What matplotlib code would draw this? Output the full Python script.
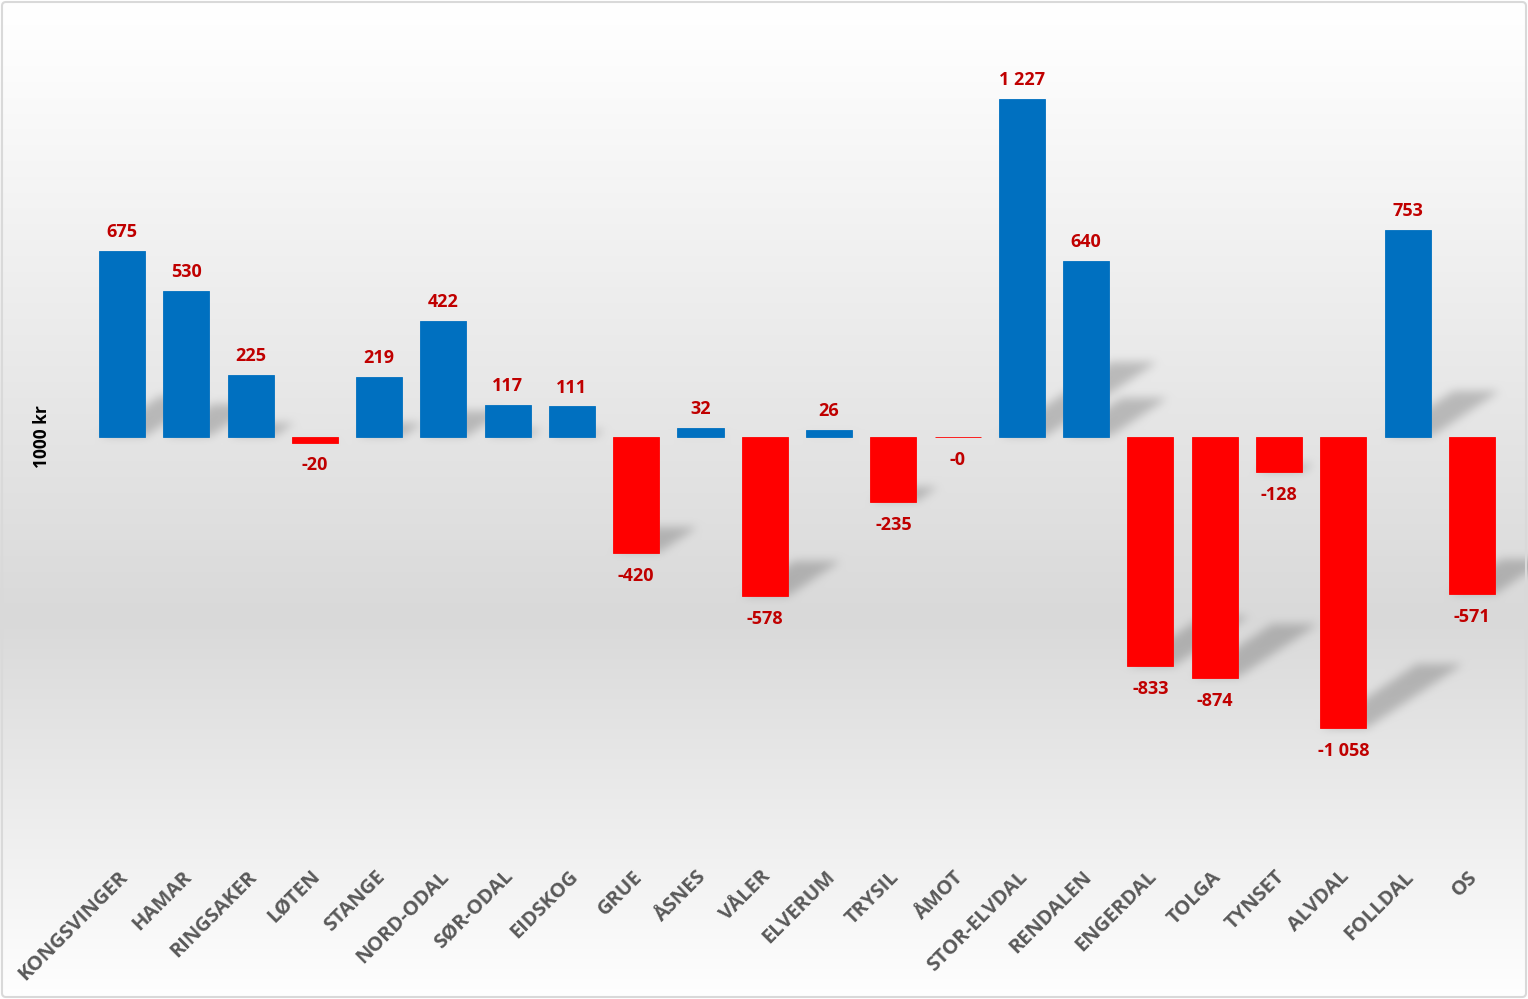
import numpy as np
import matplotlib
matplotlib.use('Agg')
from matplotlib import pyplot as plt
from matplotlib.path import Path
from matplotlib.patches import FancyBboxPatch
from matplotlib.transforms import ScaledTranslation

# Chart data
kommuner = ['KONGSVINGER', 'HAMAR', 'RINGSAKER', 'LØTEN', 'STANGE', 'NORD-ODAL',
            'SØR-ODAL', 'EIDSKOG', 'GRUE', 'ÅSNES', 'VÅLER', 'ELVERUM', 'TRYSIL',
            'ÅMOT', 'STOR-ELVDAL', 'RENDALEN', 'ENGERDAL', 'TOLGA', 'TYNSET',
            'ALVDAL', 'FOLLDAL', 'OS']
verdier = [675, 530, 225, -20, 219, 422, 117, 111, -420, 32, -578, 26, -235,
           -0.4, 1227, 640, -833, -874, -128, -1058, 753, -571]

W, H = 1528, 999
BLUE = '#0070C0'
RED = '#FF0000'
LABEL_RED = '#C00000'

plt.rcParams['font.family'] = ['Open Sans', 'DejaVu Sans']

fig = plt.figure(figsize=(W / 100, H / 100), dpi=100)

# background axes (gradient + shadows), full figure in pixel coords
bg = fig.add_axes([0, 0, 1, 1], zorder=0)
bg.set_xlim(0, W)
bg.set_ylim(0, H)
bg.axis('off')

# main chart axes, pixel placement
top_px, bot_px = 20, 860
ax = fig.add_axes([0, (H - bot_px) / H, 1, (bot_px - top_px) / H], zorder=1)
ax.patch.set_alpha(0)
n = len(kommuner)
x = np.arange(n)
# keep zero line at y=437 px and 0.2755 px per unit
scale = 0.2755
ax.set_xlim(-0.5 - 89.85 / 64.29, n - 0.5 + (W - 1504) / 64.29)
ax.set_ylim(-(bot_px - 437) / scale, (437 - top_px) / scale)

colors = [BLUE if v > 0 else RED for v in verdier]
bar_w = 0.716
ax.bar(x, verdier, width=bar_w, color=colors, edgecolor=colors, linewidth=0.6, zorder=3)

# ---- gradient background ----
rows = np.arange(H)  # display y, 0 at bottom
t = 1 - rows / (H - 1)  # 0 at top, 1 at bottom
gray = np.interp(t, [0, 0.05, 0.62, 1.0], [255, 253, 217, 255])
img = np.repeat(gray[:, None], W, axis=1).astype(float)

# ---- perspective shadows ----
mask = np.zeros((H, W))
yy, xx = np.mgrid[0:H, 0:W]
for i, v in enumerate(verdier):
    if abs(v) < 1:
        continue
    (x0, y0), (x1, y1) = ax.transData.transform([(i - bar_w / 2, 0), (i + bar_w / 2, v)])
    yb = min(y0, y1)
    h = abs(y1 - y0)
    dx, dy = 0.33 * h, 0.22 * h
    poly = Path([(x0, yb), (x1, yb), (x1 + dx, yb + dy), (x0 + dx, yb + dy), (x0, yb)])
    xa, xb = max(int(x0) - 2, 0), min(int(x1 + dx) + 3, W)
    ya, yb2 = max(int(yb) - 2, 0), min(int(yb + dy) + 3, H)
    sub = np.column_stack([xx[ya:yb2, xa:xb].ravel(), yy[ya:yb2, xa:xb].ravel()])
    inside = poly.contains_points(sub).reshape(yb2 - ya, xb - xa)
    mask[ya:yb2, xa:xb] = np.maximum(mask[ya:yb2, xa:xb], inside)


def box_blur(a, r):
    for axis in (0, 1):
        pad = [(0, 0), (0, 0)]
        pad[axis] = (r + 1, r)
        p = np.pad(a, pad, mode='edge')
        c = np.cumsum(p, axis=axis)
        if axis == 0:
            a = (c[2 * r + 1:] - c[:-2 * r - 1]) / (2 * r + 1)
        else:
            a = (c[:, 2 * r + 1:] - c[:, :-2 * r - 1]) / (2 * r + 1)
    return a


for _ in range(3):
    mask = box_blur(mask, 4)
img = img * (1 - 0.2 * mask)
img = np.clip(img, 0, 255) / 255.0
bg.imshow(np.dstack([img, img, img]), origin='lower', extent=[0, W, 0, H],
          aspect='auto', interpolation='nearest')
bg.add_patch(FancyBboxPatch((2, 2), W - 4, H - 4, boxstyle='round,pad=0,rounding_size=4',
                            fill=False, edgecolor='#d9d9d9', linewidth=1.5))

# value labels
for i, v in enumerate(verdier):
    txt = '{:,.0f}'.format(v).replace(',', ' ')
    if v > 0:
        ax.annotate(txt, (i, v), xytext=(0, 7), textcoords='offset points',
                    ha='center', va='bottom', color=LABEL_RED, fontsize=13,
                    fontweight='bold', zorder=4)
    else:
        ax.annotate(txt, (i, v), xytext=(0, -10), textcoords='offset points',
                    ha='center', va='top', color=LABEL_RED, fontsize=13,
                    fontweight='bold', zorder=4)

ax.set_xticks(x)
ax.set_xticklabels(kommuner, rotation=45, ha='right', va='center',
                   rotation_mode='anchor', fontsize=14.5, fontweight='bold',
                   color='#595959')
ax.tick_params(axis='x', length=0, pad=10)
shift = ScaledTranslation(3 / 100, 0, fig.dpi_scale_trans)
for lbl in ax.get_xticklabels():
    lbl.set_transform(lbl.get_transform() + shift)
ax.set_yticks([])
for s in ax.spines.values():
    s.set_visible(False)

fig.text(42 / W, 1 - 437 / H, '1000 kr', rotation=90, ha='center', va='center',
         fontsize=12.5, fontweight='bold', color='black')

fig.savefig('out.png', dpi=100)
